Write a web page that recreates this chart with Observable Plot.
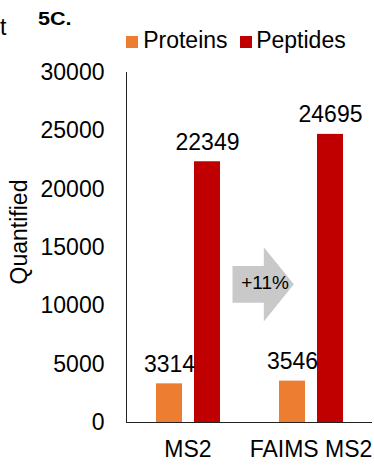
<!DOCTYPE html>
<html>
<head>
<meta charset="utf-8">
<script src="https://cdn.jsdelivr.net/npm/d3@7"></script>
<script src="https://cdn.jsdelivr.net/npm/@observablehq/plot@0.6"></script>
<style>
  body { margin: 0; background: #fff; font-family: "Liberation Sans", Arial, sans-serif; color: #000; }
  #wrap { position: relative; width: 374px; height: 465px; overflow: hidden; }
  #head { position: relative; width: 374px; height: 55px; }
  .abs { position: absolute; white-space: nowrap; line-height: 1; }
  .frag { left: 0px; top: 15.5px; font-size: 23px; }
  .title { left: 37.5px; top: 10px; font-size: 18px; font-weight: bold; transform: scaleX(1.2); transform-origin: 0 0; }
  .sw { position: absolute; width: 12px; height: 12px; top: 36px; }
  .lg { top: 28.8px; font-size: 23px; }
  .ylab { left: 19px; top: 231.5px; font-size: 23px; transform: translate(-50%, -50%) rotate(-90deg); }
  #chart svg { display: block; }
</style>
</head>
<body>
<div id="wrap">
  <div id="head"></div>
  <div id="chart"></div>
</div>
<script>
// Quantified proteins and peptides per acquisition method
const categories = ["MS2", "FAIMS MS2"];
const series = ["Proteins", "Peptides"];
const proteins = [3314, 3546];
const peptides = [22349, 24695];
const yTicks = [0, 5000, 10000, 15000, 20000, 25000, 30000];
const colors = ["#ED7D31", "#C00000"];
const yLabel = "Quantified";
const panelTitle = "5C.";
const gainLabel = "+11%";
const gainAt = 11800; // vertical position of the gain arrow, in y units

const rows = categories.flatMap((c, i) => [
  {method: c, series: series[0], value: proteins[i]},
  {method: c, series: series[1], value: peptides[i]}
]);

// Header: clipped neighbouring text, panel title and legend
const head = document.getElementById("head");
head.innerHTML =
  `<span class="abs frag">t</span>` +
  `<span class="abs title">${panelTitle}</span>` +
  `<div class="sw" style="left:126px;background:${colors[0]}"></div>` +
  `<span class="abs lg" style="left:143.2px">${series[0]}</span>` +
  `<div class="sw" style="left:239.5px;background:${colors[1]}"></div>` +
  `<span class="abs lg" style="left:256.2px">${series[1]}</span>`;

const ylab = document.createElement("span");
ylab.className = "abs ylab";
ylab.textContent = yLabel;
document.getElementById("wrap").appendChild(ylab);

const plot = Plot.plot({
  width: 374,
  height: 410,
  marginTop: 17,
  marginBottom: 43,
  marginLeft: 125,
  marginRight: 2,
  style: {fontFamily: "Liberation Sans, Arial, sans-serif", fontSize: "23px", color: "#000", background: "#fff", overflow: "visible"},
  fx: {domain: categories, paddingInner: 0, paddingOuter: 0, label: null, axis: "bottom", tickSize: 0, tickPadding: 18},
  x: {domain: series, paddingInner: 0.32, paddingOuter: 0.74, axis: null},
  y: {domain: [0, 30000], ticks: yTicks, tickFormat: "d", tickSize: 0, tickPadding: 22, label: null},
  color: {domain: series, range: colors},
  marks: [
    Plot.barY(rows, {fx: "method", x: "series", y: "value", fill: "series"}),
    Plot.text(rows, {fx: "method", x: "series", y: "value", text: d => String(d.value), dy: -12, lineAnchor: "bottom", fill: "#000"}),
    Plot.ruleY([0], {stroke: "#222", strokeWidth: 1}),
    Plot.frame({anchor: "left", facetAnchor: "left", stroke: "#222", strokeWidth: 1})
  ]
});
document.getElementById("chart").appendChild(plot);

// Gain arrow between the two methods, placed from the plot's own scales
(function () {
  const fx = plot.scale("fx");
  const y = plot.scale("y");
  const b = fx.apply(categories[1]);
  const cy = y.apply(gainAt);
  const left = b - 16.5, neck = b + 14.8, tip = b + 44.8;
  const bodyH = 18.3, headH = 37.2;
  const svg = d3.select(plot);
  const g = svg.append("g").attr("class", "gain");
  g.append("path")
    .attr("fill", "#c9c9c9")
    .attr("d", `M${left},${cy - bodyH}H${neck}V${cy - headH}L${tip},${cy}L${neck},${cy + headH}V${cy + bodyH}H${left}Z`);
  g.append("text")
    .attr("x", b + 16)
    .attr("y", cy - 1.5)
    .attr("dy", "0.35em")
    .attr("text-anchor", "middle")
    .attr("font-size", 19)
    .attr("fill", "#000")
    .text(gainLabel);
})();
</script>
</body>
</html>
